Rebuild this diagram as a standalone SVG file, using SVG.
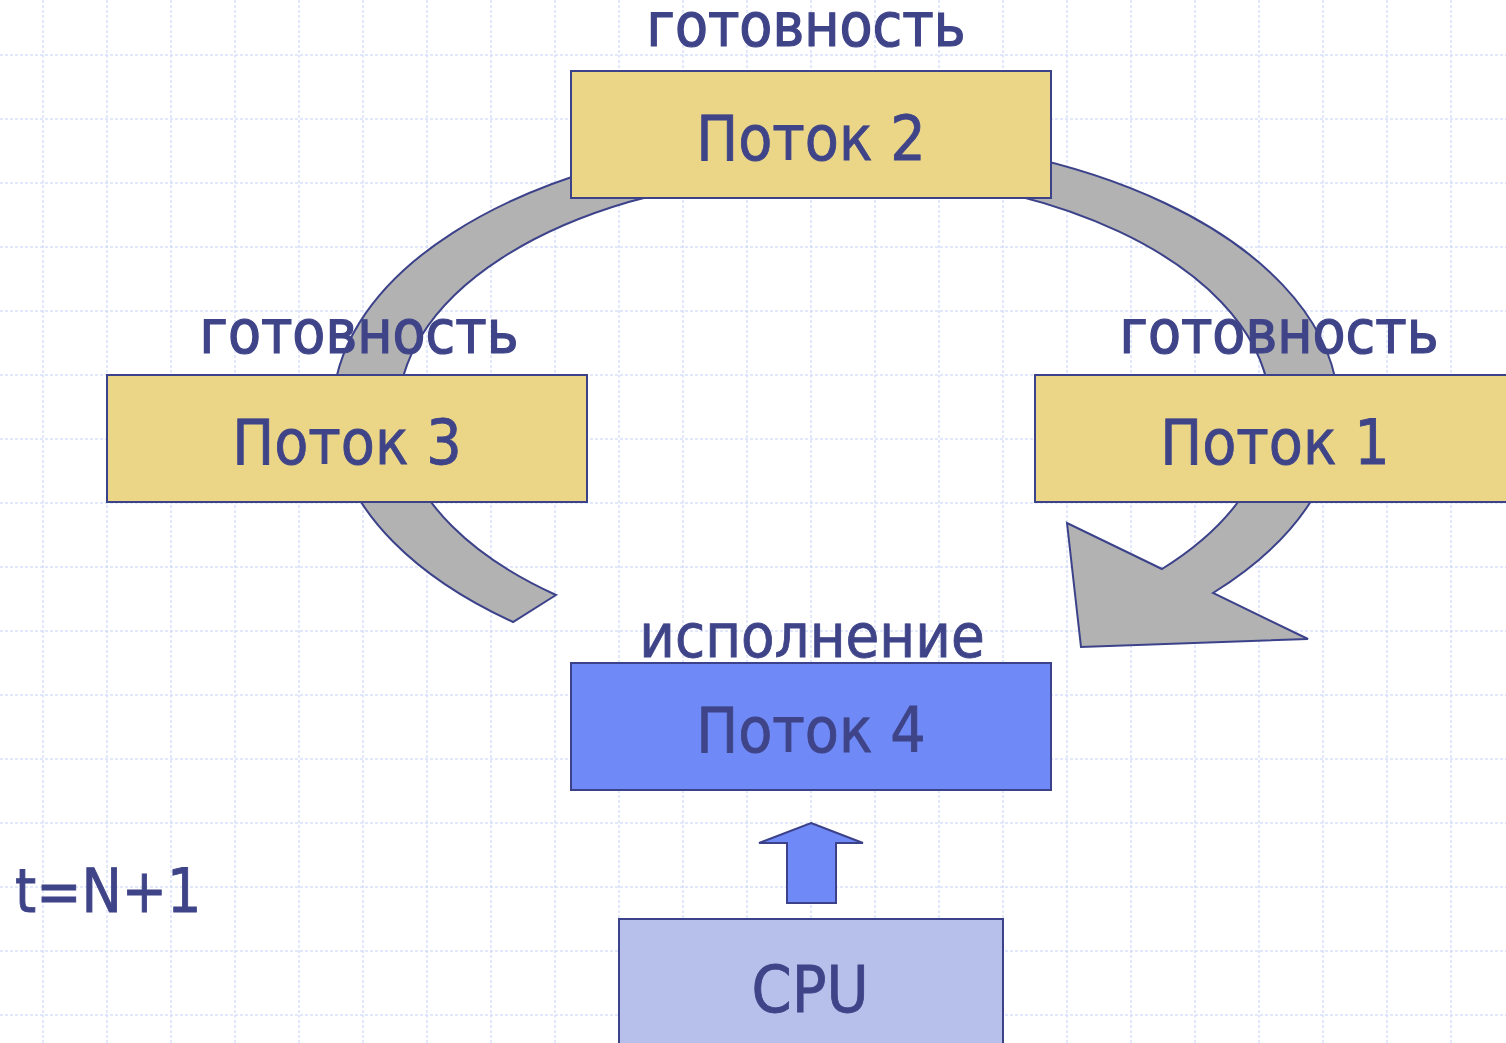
<svg xmlns="http://www.w3.org/2000/svg" width="1506" height="1043" viewBox="0 0 1506 1043">
<style>
.grid{fill:none;stroke:#c6d1f7;stroke-width:1;stroke-dasharray:3 2}
.box{stroke:#3c428a;stroke-width:2}
.y{fill:#ebd687}
.b{fill:#6f8af6}
.c{fill:#b7bfeb}
.shape{stroke:#3c428a;stroke-width:2;stroke-linejoin:miter}
text{font-family:"DejaVu Sans Condensed","DejaVu Sans",sans-serif;font-stretch:condensed;font-size:62px;fill:#3f4488;stroke:#3f4488;stroke-width:0.8}
.m{text-anchor:middle}
.lab{font-size:60px;stroke-width:1.2}
</style>
<rect width="1506" height="1043" fill="#ffffff"/>
<path class="grid" d="M43 0V1043M107 0V1043M171 0V1043M235 0V1043M299 0V1043M363 0V1043M427 0V1043M491 0V1043M555 0V1043M619 0V1043M683 0V1043M747 0V1043M811 0V1043M875 0V1043M939 0V1043M1003 0V1043M1067 0V1043M1131 0V1043M1195 0V1043M1259 0V1043M1323 0V1043M1387 0V1043M1451 0V1043M0 55H1506M0 119H1506M0 183H1506M0 247H1506M0 311H1506M0 375H1506M0 439H1506M0 503H1506M0 567H1506M0 631H1506M0 695H1506M0 759H1506M0 823H1506M0 887H1506M0 951H1506M0 1015H1506"/>
<g id="connectors">
<path id="cycle-arrow" class="shape" fill="#b2b2b2" d="M513 622 A503 275 0 1 1 1213 593 L1308 639 L1081 647 L1067 523 L1162 569 A436 238 0 1 0 556 595 Z"/>
<path id="cpu-arrow" class="shape" fill="#6f8af6" d="M811 823 L863 843 L836 843 L836 903 L787 903 L787 843 L759 843 Z"/>
</g>
<g id="label-top"><text class="m lab" x="806" y="46">готовность</text></g>
<g id="label-left"><text class="m lab" x="359" y="353">готовность</text></g>
<g id="label-right"><text class="m lab" x="1279" y="353">готовность</text></g>
<g id="label-exec"><text class="m" x="812" y="657" style="font-size:61px">исполнение</text></g>
<g id="node-thread2"><rect class="box y" x="571" y="71" width="480" height="127"/><text class="m" x="811" y="160">Поток 2</text></g>
<g id="node-thread3"><rect class="box y" x="107" y="375" width="480" height="127"/><text class="m" x="347" y="464">Поток 3</text></g>
<g id="node-thread1"><rect class="box y" x="1035" y="375" width="480" height="127"/><text class="m" x="1275" y="464">Поток 1</text></g>
<g id="node-thread4"><rect class="box b" x="571" y="663" width="480" height="127"/><text class="m" x="811" y="752">Поток 4</text></g>
<g id="node-cpu"><rect class="box c" x="619" y="919" width="384" height="140"/><text class="m" x="810" y="1012" style="font-size:64px">CPU</text></g>
<g id="label-time"><text x="15" y="912" style="font-size:60px">t=N+1</text></g>
</svg>
